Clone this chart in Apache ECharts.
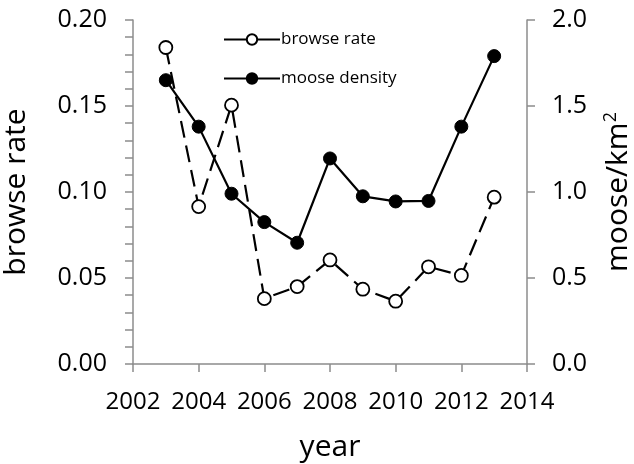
<!DOCTYPE html>
<html>
<head>
<meta charset="utf-8">
<script src="https://cdn.jsdelivr.net/npm/echarts@6/dist/echarts.min.js"></script>
<style>
html,body{margin:0;padding:0;background:#fff;}
#c{width:634px;height:464px;}
</style>
</head>
<body>
<div id="c"></div>
<script>
const years = [2003, 2004, 2005, 2006, 2007, 2008, 2009, 2010, 2011, 2012, 2013];
const browseRate = [0.184, 0.0915, 0.1505, 0.038, 0.045, 0.0605, 0.0435, 0.0365, 0.0565, 0.0515, 0.097];
const mooseDensity = [1.65, 1.38, 0.99, 0.825, 0.705, 1.195, 0.975, 0.945, 0.948, 1.38, 1.79];
const xTicks = [2002, 2004, 2006, 2008, 2010, 2012, 2014];
const leftTicks = [0, 0.05, 0.10, 0.15, 0.20];
const rightTicks = [0, 0.5, 1.0, 1.5, 2.0];

const FONT = 'Open Sans';
const INK = '#000';
const chart = echarts.init(document.getElementById('c'), null, {renderer: 'canvas'});
const axisGray = '#8c8c8c';
chart.setOption({
  backgroundColor: '#ffffff',
  animation: false,
  textStyle: {fontFamily: FONT, color: INK},
  grid: {left: 133, right: 107, top: 20, bottom: 100, containLabel: false, outerBoundsMode: 'none'},
  legend: {
    orient: 'vertical',
    left: 218,
    top: 26,
    itemWidth: 56,
    itemHeight: 13,
    itemGap: 22,
    textStyle: {fontFamily: FONT, fontSize: 17, color: INK, padding: [0,0,0,-4]},
    lineStyle: {type: 'solid', width: 2, color: INK},
    data: ['browse rate', 'moose density']
  },
  xAxis: {
    type: 'value',
    min: xTicks[0],
    max: xTicks[xTicks.length - 1],
    interval: 2,
    name: 'year',
    nameLocation: 'middle',
    nameGap: 68,
    nameTextStyle: {fontFamily: FONT, fontSize: 30, color: INK},
    axisLine: {show: true, lineStyle: {color: axisGray, width: 1.5}},
    axisTick: {show: true, length: 8, lineStyle: {color: axisGray, width: 1.5}},
    axisLabel: {fontFamily: FONT, fontSize: 24, color: INK, margin: 26, formatter: v => String(v)},
    splitLine: {show: false}
  },
  yAxis: [
    {
      type: 'value',
      min: leftTicks[0],
      max: leftTicks[leftTicks.length - 1],
      interval: 0.05,
      name: 'browse rate',
      nameLocation: 'middle',
      nameRotate: 90,
      nameGap: 102,
      nameTextStyle: {fontFamily: FONT, fontSize: 30, color: INK},
      axisLine: {show: true, lineStyle: {color: axisGray, width: 1.5}},
      axisTick: {show: true, length: 8, lineStyle: {color: axisGray, width: 1.5}},
      minorTick: {show: true, splitNumber: 5, length: 8, lineStyle: {color: axisGray, width: 1.5}},
      axisLabel: {fontFamily: FONT, fontSize: 25, color: INK, margin: 26, formatter: v => v.toFixed(2)},
      splitLine: {show: false}
    },
    {
      type: 'value',
      position: 'right',
      min: rightTicks[0],
      max: rightTicks[rightTicks.length - 1],
      interval: 0.5,
      name: '{m|moose/km}{sup|2}',
      nameLocation: 'middle',
      nameRotate: 90,
      nameGap: 75,
      nameTextStyle: {fontFamily: FONT, fontSize: 30, color: INK,
        rich: {
          m: {fontFamily: FONT, fontSize: 30, color: INK},
          sup: {fontFamily: FONT, fontSize: 18, color: INK, verticalAlign: 'top', padding: [0, 0, 14, 0]}
        }},
      axisLine: {show: true, lineStyle: {color: axisGray, width: 1.5}},
      axisTick: {show: true, length: 8, lineStyle: {color: axisGray, width: 1.5}},
      axisLabel: {fontFamily: FONT, fontSize: 25, color: INK, margin: 25, formatter: v => v.toFixed(1)},
      splitLine: {show: false}
    }
  ],
  series: [
    {
      name: 'browse rate',
      type: 'line',
      yAxisIndex: 0,
      data: years.map((y, i) => [y, browseRate[i]]),
      symbol: 'circle',
      symbolSize: 13,
      itemStyle: {color: '#ffffff', borderColor: INK, borderWidth: 1.8},
      lineStyle: {color: INK, width: 2.2, type: [17, 8]},
      z: 3
    },
    {
      name: 'moose density',
      type: 'line',
      yAxisIndex: 1,
      data: years.map((y, i) => [y, mooseDensity[i]]),
      symbol: 'circle',
      symbolSize: 13,
      itemStyle: {color: INK, borderColor: INK, borderWidth: 1},
      lineStyle: {color: INK, width: 2.2, type: 'solid'},
      z: 4
    }
  ]
});
</script>
</body>
</html>
